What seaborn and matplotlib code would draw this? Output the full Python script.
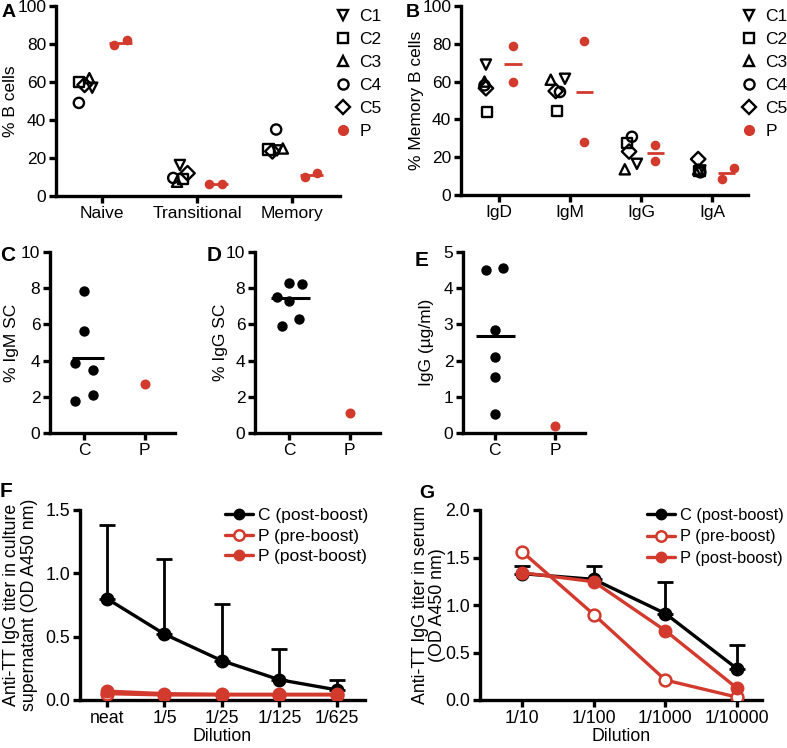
import numpy as np
import matplotlib
matplotlib.use("Agg")
import matplotlib.pyplot as plt
from matplotlib.lines import Line2D
from matplotlib.ticker import FormatStrFormatter
import seaborn as sns

# ---------------- data ----------------
donors = ["C1", "C2", "C3", "C4", "C5"]

a_categories = ["Naive", "Transitional", "Memory"]
a_c1 = [57, 16.3, 24]
a_c2 = [60, 9, 24.5]
a_c3 = [62, 7.5, 25]
a_c4 = [49, 9.5, 35]
a_c5 = [58.5, 12, 23.5]
a_p = [[79.5, 82], [6.3, 6.3], [10, 12]]

b_categories = ["IgD", "IgM", "IgG", "IgA"]
b_c1 = [69, 61.5, 16.5, 13]
b_c2 = [44, 44.5, 27.7, 12.5]
b_c3 = [60, 61, 13.6, 13.5]
b_c4 = [58, 54.5, 30.8, 12]
b_c5 = [56.5, 55, 23, 19]
b_p = [[79, 60], [81.5, 28], [26.5, 18], [8.5, 14.5]]

cde_groups = ["C", "P"]
c_igm_c = [7.85, 5.65, 3.85, 3.5, 2.1, 1.75]
c_igm_p = [2.7]
c_igm_line = 4.15
d_igg_c = [7.5, 8.27, 8.23, 7.29, 6.28, 5.93]
d_igg_p = [1.1]
d_igg_line = 7.45
e_igg_c = [4.5, 4.55, 2.85, 2.1, 1.55, 0.53]
e_igg_p = [0.2]
e_igg_line = 2.69

f_dilutions = ["neat", "1/5", "1/25", "1/125", "1/625"]
f_c_post = [0.80, 0.52, 0.31, 0.16, 0.08]
f_c_post_err = [0.58, 0.59, 0.45, 0.24, 0.08]
f_p_pre = [0.05, 0.04, 0.04, 0.04, 0.04]
f_p_post = [0.07, 0.05, 0.045, 0.045, 0.045]

g_dilutions = ["1/10", "1/100", "1/1000", "1/10000"]
g_c_post = [1.33, 1.27, 0.91, 0.33]
g_c_post_err = [0.08, 0.14, 0.33, 0.25]
g_p_pre = [1.56, 0.90, 0.21, 0.03]
g_p_post = [1.34, 1.245, 0.73, 0.125]

legend_labels = ["C (post-boost)", "P (pre-boost)", "P (post-boost)"]

# ---------------- style ----------------
RED = "#d23a2d"
sns.set_theme(style="ticks")
plt.rcParams["font.family"] = ["Liberation Sans", "DejaVu Sans"]
plt.rcParams.update({
    "axes.edgecolor": "black", "xtick.color": "black", "ytick.color": "black",
    "text.color": "black", "axes.labelcolor": "black",
})

W, H = 787, 748
fig = plt.figure(figsize=(W / 100, H / 100), dpi=100)


def box(l, r, t, b):
    return [l / W, 1 - b / H, (r - l) / W, (b - t) / H]


def style(ax, fs):
    sns.despine(ax=ax)
    for s in ("left", "bottom"):
        ax.spines[s].set_linewidth(2.4)
    ax.tick_params(width=2.4, length=5, labelsize=fs, pad=2)


markers = ["v", "s", "^", "o", "D"]
a_vals = [a_c1, a_c2, a_c3, a_c4, a_c5]
b_vals = [b_c1, b_c2, b_c3, b_c4, b_c5]

# jitter (layout only)
a_jit = [[-0.10, -0.18, -0.16], [-0.24, -0.15, -0.25], [-0.13, -0.21, -0.10],
         [-0.24, -0.25, -0.17], [-0.18, -0.10, -0.21]]
a_pjit = [0.13, 0.26]
b_jit = [[-0.18, -0.07, -0.06, -0.17], [-0.17, -0.18, -0.20, -0.18],
         [-0.20, -0.27, -0.23, -0.20], [-0.20, -0.14, -0.13, -0.17],
         [-0.18, -0.20, -0.17, -0.20]]
b_pjit = [[0.2, 0.2], [0.2, 0.2], [0.2, 0.2], [0.14, 0.31]]

FS_AB = 12.5
FS_CDE = 12.5
FS_FG = 12.8


def donor_panel(ax, cats, vals, jit, pvals, pjit, ylabel, fs):
    for i, (m, v) in enumerate(zip(markers, vals)):
        xs = [k + jit[i][k] for k in range(len(cats))]
        sns.scatterplot(x=xs, y=v, ax=ax, marker=m, s=54, color="black",
                        facecolor="none", edgecolor="black", linewidth=1.7, zorder=3)
    for k, pv in enumerate(pvals):
        offs = pjit[k] if isinstance(pjit[0], list) else pjit
        xs = [k + o for o in offs]
        sns.scatterplot(x=xs, y=pv, ax=ax, marker="o", s=48, color=RED,
                        edgecolor=RED, linewidth=0, zorder=3)
        ax.hlines(np.mean(pv), k + 0.08, k + 0.32, color=RED, lw=2, zorder=2)
    ax.set_ylim(0, 100)
    ax.set_yticks(range(0, 101, 20))
    ax.set_xticks(range(len(cats)))
    ax.set_xticklabels(cats)
    ax.set_ylabel(ylabel, fontsize=fs)
    style(ax, fs)
    handles = [Line2D([], [], ls="", marker=m, ms=7.3, mfc="none", mec="black", mew=1.7)
               for m in markers]
    handles.append(Line2D([], [], ls="", marker="o", ms=7, mfc=RED, mec=RED))
    ax.legend(handles, donors + ["P"], loc="upper left", frameon=False, fontsize=fs,
              handlelength=1.0, handletextpad=0.45, labelspacing=0.45, borderpad=0,
              borderaxespad=0)


# ---- A ----
axA = fig.add_axes(box(56, 340, 6, 196))
donor_panel(axA, a_categories, a_vals, a_jit, a_p, a_pjit, "% B cells", FS_AB)
axA.set_xlim(-0.48, 2.5)
axA.get_legend().set_bbox_to_anchor((0.98, 0.985), transform=axA.transAxes)
axA.yaxis.set_label_coords(-0.134, 0.5)

# ---- B ----
axB = fig.add_axes(box(461, 748, 6, 195))
donor_panel(axB, b_categories, b_vals, b_jit, b_p, b_pjit, "% Memory B cells", FS_AB)
axB.set_xlim(-0.53, 3.5)
axB.get_legend().set_bbox_to_anchor((0.972, 0.985), transform=axB.transAxes)
axB.yaxis.set_label_coords(-0.129, 0.5)


# ---- C, D, E ----
def sc_panel(ax, cvals, cjit, pvals, line, span, ylim, yticks, ylabel, lblx, fs=FS_CDE):
    sns.scatterplot(x=cjit, y=cvals, ax=ax, s=56, color="black", edgecolor="black",
                    linewidth=0, zorder=3)
    sns.scatterplot(x=[1] * len(pvals), y=pvals, ax=ax, s=52, color=RED, edgecolor=RED,
                    linewidth=0, zorder=3)
    ax.hlines(line, span[0], span[1], color="black", lw=2.2, zorder=2)
    ax.set_xlim(-0.56, 1.5)
    ax.set_ylim(*ylim)
    ax.set_yticks(yticks)
    ax.set_xticks([0, 1])
    ax.set_xticklabels(cde_groups)
    ax.set_ylabel(ylabel, fontsize=fs)
    ax.yaxis.set_label_coords(lblx, 0.5)
    style(ax, fs)


axC = fig.add_axes(box(50, 175, 252, 433))
sc_panel(axC, c_igm_c, [0, 0, -0.14, 0.15, 0.15, -0.14], c_igm_p, c_igm_line,
         (-0.2, 0.33), (0, 10), range(0, 11, 2), "% IgM SC", -0.25)
axD = fig.add_axes(box(255, 380, 252, 433))
sc_panel(axD, d_igg_c, [-0.19, 0, 0.21, 0, 0.16, -0.12], d_igg_p, d_igg_line,
         (-0.3, 0.35), (0, 10), range(0, 11, 2), "% IgG SC", -0.216)
axE = fig.add_axes(box(463, 585, 252, 433))
sc_panel(axE, e_igg_c, [-0.14, 0.14, 0, 0, 0, 0], e_igg_p, e_igg_line,
         (-0.32, 0.33), (0, 5), range(0, 6), "IgG (\u00b5g/ml)", -0.238)
axE.set_xlim(-0.53, 1.5)


# ---- F, G ----
def titer_panel(ax, labels, cpost, cerr, ppre, ppost, ylim, ylabel, lfs, fs=FS_FG):
    x = np.arange(len(labels))
    ax.errorbar(x, cpost, yerr=[np.zeros(len(x)), cerr], fmt="none", ecolor="black",
                elinewidth=2, capsize=6, capthick=2, zorder=1)
    sns.lineplot(x=x, y=cpost, ax=ax, color="black", lw=2.4, marker="o", ms=8.5,
                 mec="black", mew=1.5, zorder=3)
    sns.lineplot(x=x, y=ppre, ax=ax, color=RED, lw=2.4, marker="o", ms=8.5,
                 mfc="white", mec=RED, mew=1.8, zorder=4)
    sns.lineplot(x=x, y=ppost, ax=ax, color=RED, lw=2.4, marker="o", ms=8.5,
                 mec=RED, mew=1.5, zorder=5)
    ax.set_ylim(*ylim)
    ax.set_yticks(np.arange(0, ylim[1] + 0.01, 0.5))
    ax.yaxis.set_major_formatter(FormatStrFormatter("%.1f"))
    ax.set_xticks(x)
    ax.set_xticklabels(labels)
    ax.set_xlabel("Dilution", fontsize=fs, labelpad=1)
    ax.set_ylabel(ylabel, fontsize=fs, linespacing=1.05)
    style(ax, fs)
    handles = [
        Line2D([], [], color="black", lw=2.4, marker="o", ms=7.5, mfc="black", mec="black"),
        Line2D([], [], color=RED, lw=2.4, marker="o", ms=7.5, mfc="white", mec=RED, mew=1.8),
        Line2D([], [], color=RED, lw=2.4, marker="o", ms=7.5, mfc=RED, mec=RED),
    ]
    ax.legend(handles, legend_labels, loc="upper left", frameon=False, fontsize=lfs,
              handlelength=28 / (lfs * 1.389), handletextpad=0.3,
              labelspacing=(21.5 - lfs * 1.389 * 0.93) / (lfs * 1.389), borderpad=0,
              borderaxespad=0)


axF = fig.add_axes(box(80, 365, 510, 700))
titer_panel(axF, f_dilutions, f_c_post, f_c_post_err, f_p_pre, f_p_post, (0, 1.5),
            "Anti-TT IgG titer in culture\nsupernatant (OD A450 nm)", 12.5)
axF.set_xlim(-0.47, 4.49)
axF.get_legend().set_bbox_to_anchor((0.509, 1.01), transform=axF.transAxes)
axF.yaxis.set_label_coords(-0.147, 0.5)

axG = fig.add_axes(box(480, 762, 510, 700))
titer_panel(axG, g_dilutions, g_c_post, g_c_post_err, g_p_pre, g_p_post, (0, 2.0),
            "Anti-TT IgG titer in serum\n(OD A450 nm)", 11.8)
axG.set_xlim(-0.59, 3.35)
axG.get_legend().set_bbox_to_anchor((0.592, 1.01), transform=axG.transAxes)
axG.yaxis.set_label_coords(-0.12, 0.5)

# ---- panel letters ----
for letter, (px, py, fs) in {"A": (2, 4, 14), "B": (406, 4, 14), "C": (0, 246, 15),
                             "D": (207, 246, 15), "E": (415, 251, 15),
                             "F": (0, 482, 15), "G": (419, 485, 14)}.items():
    fig.text(px / W, 1 - py / H, letter, fontsize=fs, fontweight="bold",
             ha="left", va="top")

fig.savefig("out.png", dpi=100)
